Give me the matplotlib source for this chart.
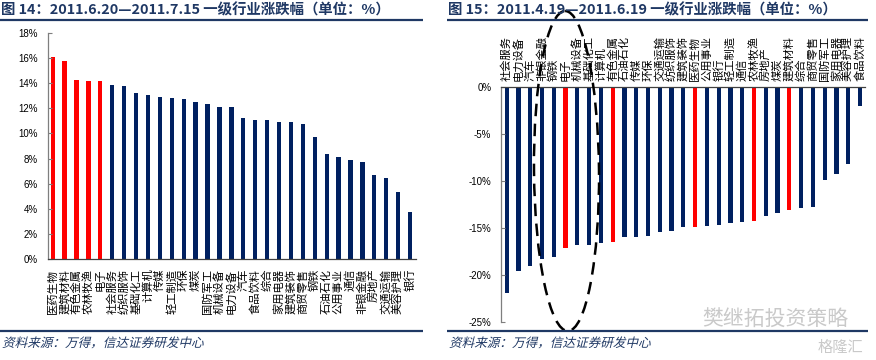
import matplotlib
matplotlib.use('Agg')
import matplotlib.pyplot as plt
from matplotlib.patches import Ellipse, PathPatch
from matplotlib.textpath import TextPath
from matplotlib.font_manager import FontProperties
from matplotlib.transforms import Affine2D
import numpy as np

# left panel: 2011.6.20-2011.7.15
names1 = ['医药生物', '建筑材料', '有色金属', '农林牧渔', '电子', '社会服务', '纺织服饰',
          '基础化工', '计算机', '传媒', '轻工制造', '环保', '煤炭', '国防军工', '机械设备',
          '电力设备', '汽车', '食品饮料', '综合', '家用电器', '建筑装饰', '商贸零售', '钢铁',
          '石油石化', '公用事业', '通信', '非银金融', '房地产', '交通运输', '美容护理', '银行']
vals1 = [16.06, 15.76, 14.25, 14.17, 14.17, 13.83, 13.75, 13.19, 13.03, 12.87, 12.85,
         12.76, 12.5, 12.34, 12.1, 12.07, 11.23, 11.09, 11.07, 10.93, 10.88, 10.75, 9.69,
         8.36, 8.15, 7.88, 7.75, 6.69, 6.45, 5.33, 3.72]

# right panel: 2011.4.19-2011.6.19
names2 = ['社会服务', '电力设备', '汽车', '非银金融', '钢铁', '电子', '机械设备', '基础化工',
          '计算机', '有色金属', '石油石化', '传媒', '环保', '交通运输', '纺织服饰', '建筑装饰',
          '医药生物', '公用事业', '银行', '轻工制造', '通信', '农林牧渔', '房地产', '煤炭',
          '建筑材料', '综合', '商贸零售', '国防军工', '家用电器', '美容护理', '食品饮料']
vals2 = [-21.87, -19.6, -19.03, -18.26, -18.05, -17.09, -16.84, -16.84, -16.56, -16.45,
         -15.99, -15.99, -15.88, -15.39, -15.32, -14.86, -14.89, -14.79, -14.68, -14.5,
         -14.36, -14.22, -13.72, -13.44, -13.09, -12.91, -12.8, -9.9, -9.3, -8.24, -2.06]

highlight = ['医药生物', '建筑材料', '有色金属', '农林牧渔', '电子']

title1 = '图 14：2011.6.20—2011.7.15 一级行业涨跌幅（单位：%）'
title2 = '图 15：2011.4.19—2011.6.19 一级行业涨跌幅（单位：%）'
source = '资料来源：万得，信达证券研发中心'

NAVY = '#002060'
RED = '#FF0000'
HEAD = '#1F3864'
W, H = 876, 360

plt.rcParams['font.family'] = ['Noto Sans CJK SC', 'DejaVu Sans']


def box(x0, y0, x1, y1):
    # pixel box (top-left origin) -> figure fraction rect
    return [x0 / W, 1 - y1 / H, (x1 - x0) / W, (y1 - y0) / H]


def style_axis(ax):
    for s in ax.spines.values():
        s.set_color('#7f7f7f')
        s.set_linewidth(0.9)
    ax.tick_params(axis='y', direction='in', length=3, pad=7, colors='#7f7f7f',
                   labelcolor='black')
    for lab in ax.get_yticklabels():
        lab.set_fontfamily('Liberation Sans')
        lab.set_fontsize(7)


fig = plt.figure(figsize=(W / 100, H / 100), dpi=100)

# ---- left chart
ax1 = fig.add_axes(box(47.7, 33, 416, 259))
x1 = np.arange(len(names1))
c1 = [RED if n in highlight else NAVY for n in names1]
ax1.bar(x1, vals1, width=0.36, color=c1)
ax1.set_xlim(-0.42, len(names1) - 0.5)
ax1.set_ylim(0, 18)
ax1.set_yticks(np.arange(0, 19, 2))
ax1.set_yticklabels([f'{v}%' for v in range(0, 19, 2)])
ax1.set_xticks(x1)
ax1.set_xticklabels(names1, rotation=90, fontsize=8.1)
ax1.tick_params(axis='x', length=0, pad=7)
ax1.spines['top'].set_visible(False)
ax1.spines['right'].set_visible(False)
style_axis(ax1)
ax1.spines['bottom'].set_color('#404040')

# ---- right chart
ax2 = fig.add_axes(box(501, 86.7, 865, 322))
x2 = np.arange(len(names2))
c2 = [RED if n in highlight else NAVY for n in names2]
ax2.bar(x2, vals2, width=0.36, color=c2)
ax2.set_xlim(-0.48, len(names2) - 0.58)
ax2.set_ylim(-25, 0)
ax2.set_yticks(np.arange(-25, 1, 5))
ax2.set_yticklabels([f'{v}%' for v in range(-25, 1, 5)])
ax2.set_xticks(x2)
ax2.xaxis.set_ticks_position('top')
ax2.set_xticklabels(names2, rotation=90, fontsize=8.1)
ax2.tick_params(axis='x', length=0, pad=4)
ax2.spines['bottom'].set_visible(False)
ax2.spines['right'].set_visible(False)
style_axis(ax2)
ax2.spines['top'].set_color('#404040')

# ---- overlay for titles, rules, notes
ov = fig.add_axes([0, 0, 1, 1], zorder=5)
ov.set_xlim(0, W)
ov.set_ylim(H, 0)
ov.axis('off')
ov.patch.set_alpha(0)

src_prop = FontProperties(family='Noto Sans CJK SC')
for x0, x1_, t in [(0, 423, title1), (447, 868, title2)]:
    ov.text(x0 + 1, 10, t, fontsize=10.4, fontweight='bold', color=HEAD, va='center', ha='left')
    ov.plot([x0, x1_], [19.5, 19.5], color=HEAD, lw=1.6, solid_capstyle='butt')
    ov.plot([x0, x1_], [330.8, 330.8], color=HEAD, lw=1.6, solid_capstyle='butt')
    # slanted source note (CJK font has no italic face)
    tp = TextPath((0, 0), source, size=12.6, prop=src_prop)
    tr = Affine2D().skew_deg(14, 0).scale(1, -1).translate(x0 + 2, 347)
    ov.add_patch(PathPatch(tr.transform_path(tp), fc=HEAD, ec='none', lw=0))

ov.add_patch(Ellipse((566.5, 171), 65, 320, angle=-0.5, fill=False, ec='black',
                     lw=1.8, ls=(0, (5, 3))))

ov.text(775, 320, '樊继拓投资策略', fontsize=15, color='#c9c9c9', va='center', ha='center')
ov.text(840, 347, '格隆汇', fontsize=11, color='#c9c9c9', va='center', ha='center')

fig.savefig('out.png', dpi=100)
